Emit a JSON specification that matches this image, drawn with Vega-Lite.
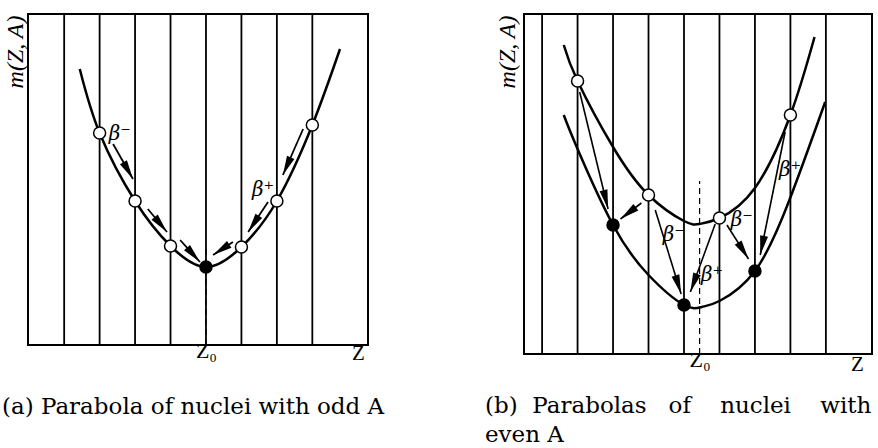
{
  "$schema": "https://vega.github.io/schema/vega-lite/v6.json",
  "padding": {"left": 0, "top": 12, "right": 0, "bottom": 0},
  "background": "white",
  "spacing": 98,
  "config": {
    "view": {"stroke": "black", "strokeWidth": 2},
    "font": "Liberation Serif"
  },
  "datasets": {
    "gridA": [{"z": -4}, {"z": -3}, {"z": -2}, {"z": -1}, {"z": 0}, {"z": 1}, {"z": 2}, {"z": 3}],
    "z0A": [{"z": 0, "m": 0, "m2": 98}],
    "curveA": [
      {"z": -3.56, "m": 276}, {"z": -3, "m": 212}, {"z": -2, "m": 144}, {"z": -1, "m": 99},
      {"z": 0, "m": 78}, {"z": 1, "m": 98}, {"z": 2, "m": 144}, {"z": 3, "m": 220}, {"z": 3.78, "m": 296}
    ],
    "nucA": [
      {"z": -3, "m": 212, "kind": "odd"}, {"z": -2, "m": 144, "kind": "odd"}, {"z": -1, "m": 99, "kind": "odd"},
      {"z": 0, "m": 78, "kind": "stable"}, {"z": 1, "m": 98, "kind": "odd"}, {"z": 2, "m": 144, "kind": "odd"},
      {"z": 3, "m": 220, "kind": "odd"}
    ],
    "arrA": [
      {"zs": -2.62, "ms": 201, "z": -2.06, "m": 166, "dir": 150.5},
      {"zs": -1.64, "ms": 136, "z": -1.10, "m": 113, "dir": 140.3},
      {"zs": -0.73, "ms": 105, "z": -0.17, "m": 83, "dir": 138},
      {"zs": 2.74, "ms": 216, "z": 2.17, "m": 170, "dir": 203.7},
      {"zs": 1.75, "ms": 143, "z": 1.19, "m": 113, "dir": 213.4},
      {"zs": 0.76, "ms": 103, "z": 0.20, "m": 90, "dir": 236.7}
    ],
    "labA": [{"z": -2.43, "m": 211, "t": "β⁻"}, {"z": 1.61, "m": 155, "t": "β⁺"}],
    "gridB": [{"z": -4}, {"z": -3}, {"z": -2}, {"z": -1}, {"z": 0}, {"z": 1}, {"z": 2}, {"z": 3}, {"z": 4}],
    "z0B": [{"z": 0.44, "m": 0, "m2": 173}],
    "curveB": [
      {"c": "odd-odd", "z": -3.39, "m": 309}, {"c": "odd-odd", "z": -3, "m": 273}, {"c": "odd-odd", "z": -2, "m": 207},
      {"c": "odd-odd", "z": -1, "m": 159}, {"c": "odd-odd", "z": 0, "m": 133}, {"c": "odd-odd", "z": 0.44, "m": 130},
      {"c": "odd-odd", "z": 1, "m": 136}, {"c": "odd-odd", "z": 2, "m": 166}, {"c": "odd-odd", "z": 3, "m": 239},
      {"c": "odd-odd", "z": 3.68, "m": 317},
      {"c": "even-even", "z": -3.39, "m": 239}, {"c": "even-even", "z": -3, "m": 205}, {"c": "even-even", "z": -2, "m": 129},
      {"c": "even-even", "z": -1, "m": 79}, {"c": "even-even", "z": 0, "m": 49}, {"c": "even-even", "z": 0.5, "m": 47},
      {"c": "even-even", "z": 1, "m": 53}, {"c": "even-even", "z": 2, "m": 83}, {"c": "even-even", "z": 2.95, "m": 152},
      {"c": "even-even", "z": 3.98, "m": 252}
    ],
    "nucB": [
      {"z": -3, "m": 273, "kind": "odd"}, {"z": -1, "m": 159, "kind": "odd"}, {"z": 1, "m": 136, "kind": "odd"},
      {"z": 3, "m": 239, "kind": "odd"}, {"z": -2, "m": 129, "kind": "stable"}, {"z": 0, "m": 49, "kind": "stable"},
      {"z": 2, "m": 83, "kind": "stable"}
    ],
    "arrB": [
      {"zs": -2.94, "ms": 262, "z": -2.14, "m": 145, "dir": 166.4},
      {"zs": -1.20, "ms": 151, "z": -1.79, "m": 135, "dir": 232.6},
      {"zs": -0.81, "ms": 144, "z": -0.08, "m": 60, "dir": 162.9},
      {"zs": 0.88, "ms": 130, "z": 0.18, "m": 62, "dir": 200.1},
      {"zs": 1.21, "ms": 129, "z": 1.82, "m": 95, "dir": 147.5},
      {"zs": 2.85, "ms": 222, "z": 2.15, "m": 99, "dir": 191.4}
    ],
    "labB": [
      {"z": -0.29, "m": 119, "t": "β⁻"}, {"z": 0.79, "m": 79, "t": "β⁺"},
      {"z": 1.63, "m": 134, "t": "β⁻"}, {"z": 2.99, "m": 184, "t": "β⁺"}
    ]
  },
  "hconcat": [
    {
      "width": 340,
      "height": 331,
      "title": {
        "text": "(a) Parabola of nuclei with odd A",
        "orient": "bottom", "anchor": "start", "font": "DejaVu Serif", "fontSize": 23,
        "fontWeight": "normal", "color": "black", "offset": 33, "dx": -1
      },
      "encoding": {
        "x": {"field": "z", "type": "quantitative", "scale": {"domain": [-5.02, 4.57], "nice": false, "zero": false},
          "axis": {"values": [0], "labelExpr": "'Z₀'", "ticks": false, "domain": false, "grid": false,
            "labelFont": "Liberation Serif", "labelFontSize": 22, "labelColor": "black", "labelPadding": -5,
            "title": "Z", "titleFont": "Liberation Serif", "titleFontSize": 21, "titleFontWeight": "normal",
            "titleColor": "black", "titleX": 330, "titleY": 8, "titleBaseline": "middle", "titleAlign": "center"}},
        "y": {"field": "m", "type": "quantitative", "scale": {"domain": [0, 331], "nice": false, "zero": false},
          "axis": {"labels": false, "ticks": false, "domain": false, "grid": false, "title": "m(Z, A)",
            "titleFont": "Liberation Serif", "titleFontStyle": "italic", "titleFontWeight": "normal", "titleFontSize": 24,
            "titleColor": "black", "titleAnchor": "end", "titlePadding": 1, "titleY": 1}}
      },
      "layer": [
        {
          "data": {"name": "gridA"},
          "mark": {"type": "rule", "color": "black", "strokeWidth": 1.8},
          "encoding": {"y": {"value": 0}, "y2": {"value": "height"}}
        },
        {
          "data": {"name": "z0A"},
          "mark": {"type": "rule", "color": "black", "strokeWidth": 1.2, "strokeDash": [6, 4]},
          "encoding": {"y2": {"field": "m2"}}
        },
        {
          "data": {"name": "curveA"},
          "mark": {"type": "line", "color": "black", "strokeWidth": 2.5, "interpolate": "natural"},
          "encoding": {}
        },
        {
          "data": {"name": "arrA"},
          "mark": {"type": "rule", "color": "black", "strokeWidth": 1.8},
          "encoding": {"x2": {"field": "zs"}, "y2": {"field": "ms"}}
        },
        {
          "data": {"name": "arrA"},
          "mark": {"type": "point", "shape": "M0,0L0.5,2.4L-0.5,2.4Z", "filled": true, "color": "black", "size": 260, "opacity": 1},
          "encoding": {"angle": {"field": "dir", "type": "quantitative", "scale": null}}
        },
        {
          "data": {"name": "nucA"},
          "mark": {"type": "point", "shape": "circle", "filled": true, "size": 144, "stroke": "black", "strokeWidth": 1.5, "opacity": 1},
          "encoding": {
            "fill": {"field": "kind", "type": "nominal", "scale": {"domain": ["odd", "stable"], "range": ["white", "black"]}, "legend": null}
          }
        },
        {
          "data": {"name": "labA"},
          "mark": {"type": "text", "font": "DejaVu Serif", "fontStyle": "italic", "fontSize": 20, "color": "black"},
          "encoding": {"text": {"field": "t"}}
        }
      ]
    },
    {
      "width": 348,
      "height": 340,
      "title": {
        "text": ["(b)\u00a0\u00a0Parabolas\u00a0\u00a0\u00a0of\u00a0\u00a0\u00a0\u00a0nuclei\u00a0\u00a0\u00a0\u00a0with", "even A"],
        "orient": "bottom", "anchor": "start", "font": "DejaVu Serif", "fontSize": 23, "lineHeight": 29,
        "fontWeight": "normal", "color": "black", "offset": 21, "dx": -10
      },
      "encoding": {
        "x": {"field": "z", "type": "quantitative", "scale": {"domain": [-4.51, 5.3], "nice": false, "zero": false},
          "axis": {"values": [0.44], "labelExpr": "'Z₀'", "ticks": false, "domain": false, "grid": false,
            "labelFont": "Liberation Serif", "labelFontSize": 22, "labelColor": "black", "labelPadding": -5,
            "title": "Z", "titleFont": "Liberation Serif", "titleFontSize": 21, "titleFontWeight": "normal",
            "titleColor": "black", "titleX": 333, "titleY": 10, "titleBaseline": "middle", "titleAlign": "center"}},
        "y": {"field": "m", "type": "quantitative", "scale": {"domain": [0, 340], "nice": false, "zero": false},
          "axis": {"labels": false, "ticks": false, "domain": false, "grid": false, "title": "m(Z, A)",
            "titleFont": "Liberation Serif", "titleFontStyle": "italic", "titleFontWeight": "normal", "titleFontSize": 24,
            "titleColor": "black", "titleAnchor": "end", "titlePadding": 5, "titleY": 1}}
      },
      "layer": [
        {
          "data": {"name": "gridB"},
          "mark": {"type": "rule", "color": "black", "strokeWidth": 1.8},
          "encoding": {"y": {"value": 0}, "y2": {"value": "height"}}
        },
        {
          "data": {"name": "z0B"},
          "mark": {"type": "rule", "color": "black", "strokeWidth": 1.2, "strokeDash": [6, 4]},
          "encoding": {"y2": {"field": "m2"}}
        },
        {
          "data": {"name": "curveB"},
          "mark": {"type": "line", "color": "black", "strokeWidth": 2.5, "interpolate": "natural"},
          "encoding": {"detail": {"field": "c", "type": "nominal"}}
        },
        {
          "data": {"name": "arrB"},
          "mark": {"type": "rule", "color": "black", "strokeWidth": 1.6},
          "encoding": {"x2": {"field": "zs"}, "y2": {"field": "ms"}}
        },
        {
          "data": {"name": "arrB"},
          "mark": {"type": "point", "shape": "M0,0L0.5,2.4L-0.5,2.4Z", "filled": true, "color": "black", "size": 260, "opacity": 1},
          "encoding": {"angle": {"field": "dir", "type": "quantitative", "scale": null}}
        },
        {
          "data": {"name": "nucB"},
          "mark": {"type": "point", "shape": "circle", "filled": true, "size": 144, "stroke": "black", "strokeWidth": 1.5, "opacity": 1},
          "encoding": {
            "fill": {"field": "kind", "type": "nominal", "scale": {"domain": ["odd", "stable"], "range": ["white", "black"]}, "legend": null}
          }
        },
        {
          "data": {"name": "labB"},
          "mark": {"type": "text", "font": "DejaVu Serif", "fontStyle": "italic", "fontSize": 20, "color": "black"},
          "encoding": {"text": {"field": "t"}}
        }
      ]
    }
  ]
}
